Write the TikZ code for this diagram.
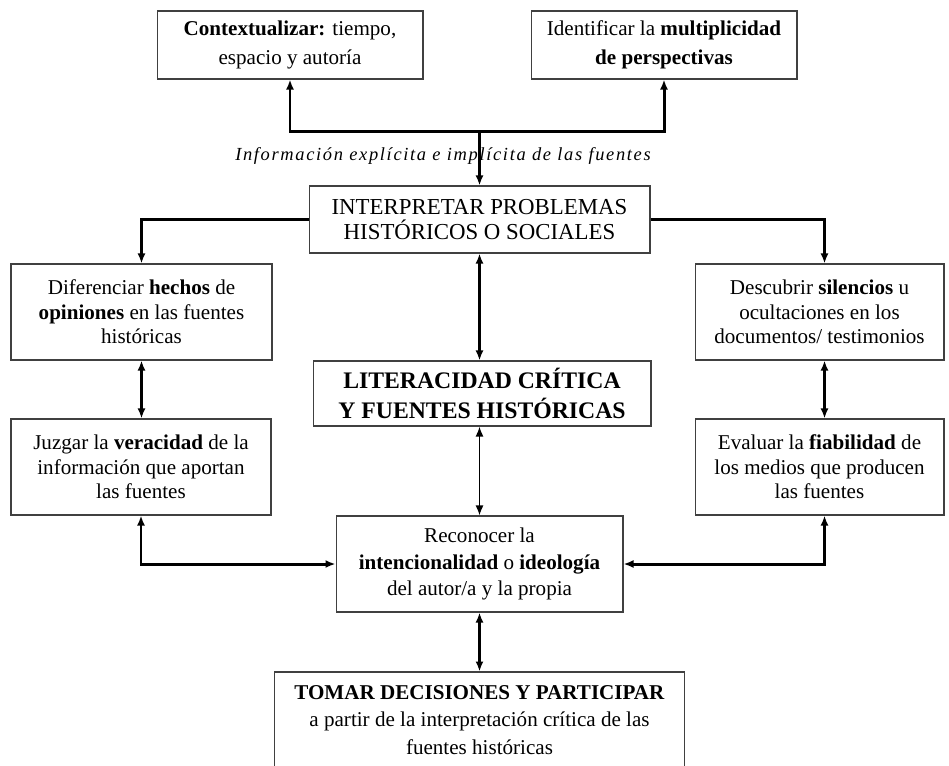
\documentclass[tikz,border=0pt]{standalone}
\usepackage{fontspec}
\setmainfont{Liberation Serif}
\usepackage{tikz}
\usetikzlibrary{arrows.meta}
\tikzset{>={Latex[length=2mm,width=1.6mm]}}
\tikzset{
  caja/.style={draw=black!75, line width=0.6pt, fill=white, align=center, inner sep=2pt, font=\fontsize{12}{14}\selectfont},
  flecha/.style={line width=1.7pt, ->},
  dflecha/.style={line width=1.7pt, <->},
  fina/.style={line width=0.9pt, <->}
}

\begin{document}
\begin{tikzpicture}[x=0.02cm, y=-0.02cm]
 \useasboundingbox (0,0) rectangle (949,765);

 % Cajas de arriba
 \node[caja, minimum width=5.32cm, minimum height=1.36cm, font=\fontsize{12}{16.5}\selectfont] (ctx) at (290,45)
   {\textbf{Contextualizar:} tiempo,\\ espacio y autoría};
 \node[caja, minimum width=5.32cm, minimum height=1.36cm, font=\fontsize{12}{16.5}\selectfont] (ident) at (664,45)
   {Identificar la \textbf{multiplicidad}\\ \textbf{de perspectivas}};

 % Centro
 \node[caja, minimum width=6.82cm, minimum height=1.34cm, font=\fontsize{13}{14.5}\selectfont] (interp) at (479.5,219.5)
   {INTERPRETAR PROBLEMAS\\ HISTÓRICOS O SOCIALES};
 \node[caja, minimum width=6.76cm, minimum height=1.30cm, font=\bfseries\fontsize{13.5}{17}\selectfont] (liter) at (482,393.5)
   {LITERACIDAD CRÍTICA\\ Y FUENTES HISTÓRICAS};
 \node[caja, minimum width=5.74cm, minimum height=1.92cm, font=\fontsize{12}{15}\selectfont] (recon) at (479.5,564)
   {Reconocer la\\ \textbf{intencionalidad} o \textbf{ideología}\\ del autor/a y la propia};
 \node[caja, minimum width=8.22cm, minimum height=1.92cm, font=\fontsize{12}{15.5}\selectfont] (tomar) at (479.5,720)
   {\textbf{TOMAR DECISIONES Y PARTICIPAR}\\ a partir de la interpretación crítica de las\\ fuentes históricas};

 % Lados
 \node[caja, minimum width=5.22cm, minimum height=1.92cm] (difer) at (141.5,312)
   {Diferenciar \textbf{hechos} de\\ \textbf{opiniones} en las fuentes\\ históricas};
 \node[caja, minimum width=5.20cm, minimum height=1.92cm] (juzgar) at (141,467)
   {Juzgar la \textbf{veracidad} de la\\ información que aportan\\ las fuentes};
 \node[caja, minimum width=4.98cm, minimum height=1.92cm] (descub) at (819.5,312)
   {Descubrir \textbf{silencios} u\\ ocultaciones en los\\ documentos/ testimonios};
 \node[caja, minimum width=4.98cm, minimum height=1.92cm] (evaluar) at (819.5,467)
   {Evaluar la \textbf{fiabilidad} de\\ los medios que producen\\ las fuentes};

 % Lineas
 \coordinate (split) at (479.5,131);
 \draw[flecha] (split) -- (interp.north);
 \draw[flecha] (split) -| (ctx.south);
 \draw[flecha] (split) -| (ident.south);
 \node[font=\itshape\fontsize{10.5}{12}\selectfont\addfontfeature{LetterSpace=9}, inner sep=1pt] (info) at (443,156)
   {Información explícita e implícita de las fuentes};

 \draw[flecha] (interp.west) -| (difer.north);
 \draw[flecha] (interp.east) -| ([xshift=0.1cm]descub.north);

 \foreach \a/\b in {interp/liter, difer/juzgar, recon/tomar}{
   \draw[dflecha] (\a.south) -- (\a.south |- \b.north);
 }
 \draw[dflecha] ([xshift=0.1cm]descub.south) -- ([xshift=0.1cm]evaluar.north);
 \draw[fina] (liter.south -| recon.north) -- (recon.north);

 \draw[dflecha] (juzgar.south) |- (recon.west);
 \draw[dflecha] ([xshift=0.1cm]evaluar.south) |- (recon.east);

\end{tikzpicture}
\end{document}
